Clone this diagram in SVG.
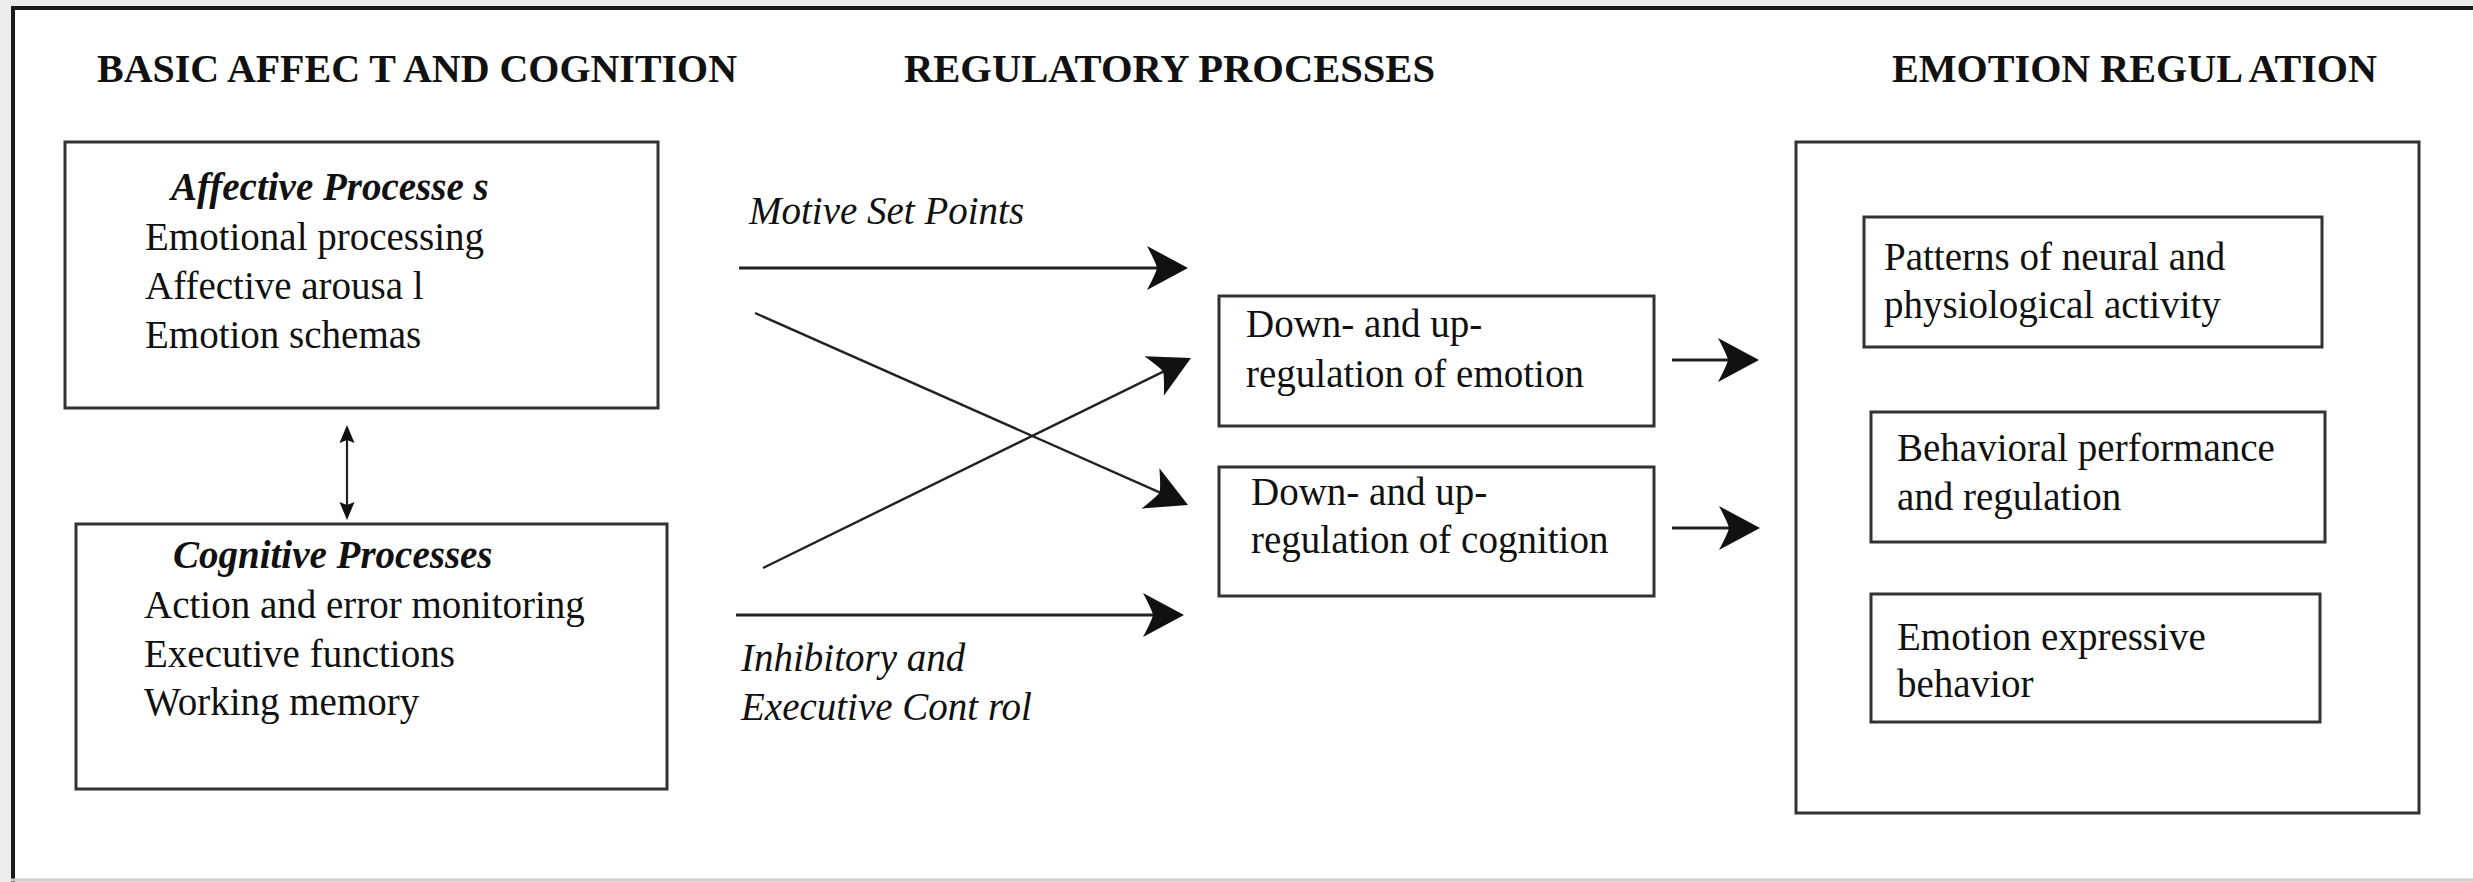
<svg xmlns="http://www.w3.org/2000/svg" width="2473" height="882" viewBox="0 0 2473 882">
<style>
.box{fill:#fff;stroke:#333;stroke-width:3}
.t{font-family:"Liberation Serif","Times New Roman",serif;font-size:39px;fill:#111}
.h{font-family:"Liberation Serif","Times New Roman",serif;font-size:40px;font-weight:bold;fill:#111}
.bi{font-weight:bold;font-style:italic}
.i{font-style:italic}
.ln{stroke:#222;stroke-width:3;fill:none}
.dg{stroke:#222;stroke-width:2.4;fill:none}
.thin{stroke:#222;stroke-width:2.2;fill:none}
</style>
<defs>
<marker id="ah" markerUnits="userSpaceOnUse" markerWidth="50" markerHeight="50" viewBox="-25 -25 50 50" refX="0" refY="0" orient="auto">
<path d="M20,0 L-21,-22 Q-12,-5 -11,0 Q-12,5 -21,22 Z" fill="#111"/>
</marker>
<marker id="sm" markerUnits="userSpaceOnUse" markerWidth="24" markerHeight="24" viewBox="-12 -12 24 24" refX="0" refY="0" orient="auto-start-reverse">
<path d="M9,0 L-9,-7.5 L-6,0 L-9,7.5 Z" fill="#111"/>
</marker>
</defs>
<rect x="0" y="0" width="2473" height="882" fill="#ececec"/>
<rect x="11" y="6" width="2462" height="872" fill="#fff"/>
<line x1="13" y1="8" x2="13" y2="882" stroke="#1a1a1a" stroke-width="4"/>
<line x1="11" y1="8" x2="2473" y2="8" stroke="#1a1a1a" stroke-width="4"/>
<line x1="11" y1="880" x2="2473" y2="880" stroke="#cfcfcf" stroke-width="3"/>

<g id="headings">
<text class="h" x="97" y="82" textLength="640" lengthAdjust="spacingAndGlyphs">BASIC AFFEC T AND COGNITION</text>
<text class="h" x="904" y="82" textLength="531" lengthAdjust="spacingAndGlyphs">REGULATORY PROCESSES</text>
<text class="h" x="1892" y="82" textLength="485" lengthAdjust="spacingAndGlyphs">EMOTION REGUL ATION</text>
</g>

<g id="affective">
<rect class="box" x="65" y="142" width="593" height="266"/>
<text class="t bi" x="171" y="200">Affective Processe s</text>
<text class="t" x="145" y="250">Emotional processing</text>
<text class="t" x="145" y="299">Affective arousa l</text>
<text class="t" x="145" y="348">Emotion schemas</text>
</g>

<g id="cognitive">
<rect class="box" x="76" y="524" width="591" height="265"/>
<text class="t bi" x="173" y="568">Cognitive Processes</text>
<text class="t" x="144" y="618">Action and error monitoring</text>
<text class="t" x="144" y="667">Executive functions</text>
<text class="t" x="144" y="715">Working memory</text>
</g>

<g id="emotion-reg-box">
<rect class="box" x="1219" y="296" width="435" height="130"/>
<text class="t" x="1246" y="337">Down- and up-</text>
<text class="t" x="1246" y="387">regulation of emotion</text>
</g>

<g id="cognition-reg-box">
<rect class="box" x="1219" y="467" width="435" height="129"/>
<text class="t" x="1251" y="505">Down- and up-</text>
<text class="t" x="1251" y="553">regulation of cognition</text>
</g>

<g id="emotion-regulation">
<rect class="box" x="1796" y="142" width="623" height="671"/>
</g>
<g id="patterns">
<rect class="box" x="1864" y="217" width="458" height="130"/>
<text class="t" x="1884" y="270">Patterns of neural and</text>
<text class="t" x="1884" y="318">physiological activity</text>
</g>
<g id="behavioral">
<rect class="box" x="1871" y="412" width="454" height="130"/>
<text class="t" x="1897" y="461">Behavioral performance</text>
<text class="t" x="1897" y="510">and regulation</text>
</g>
<g id="expressive">
<rect class="box" x="1871" y="594" width="449" height="128"/>
<text class="t" x="1897" y="650">Emotion expressive</text>
<text class="t" x="1897" y="697">behavior</text>
</g>

<g id="labels">
<text class="t i" x="749" y="224">Motive Set Points</text>
<text class="t i" x="741" y="671">Inhibitory and</text>
<text class="t i" x="741" y="720">Executive Cont rol</text>
</g>

<g id="connectors">
<line class="thin" x1="347" y1="434" x2="347" y2="511" marker-start="url(#sm)" marker-end="url(#sm)"/>
<line class="ln" x1="739" y1="268" x2="1168" y2="268" marker-end="url(#ah)"/>
<line class="dg" x1="755" y1="313" x2="1169.7" y2="496.9" marker-end="url(#ah)"/>
<line class="dg" x1="763" y1="568" x2="1173" y2="366.8" marker-end="url(#ah)"/>
<line class="ln" x1="736" y1="615" x2="1164" y2="615" marker-end="url(#ah)"/>
<line class="ln" x1="1672" y1="360" x2="1739" y2="360" marker-end="url(#ah)"/>
<line class="ln" x1="1672" y1="528" x2="1740" y2="528" marker-end="url(#ah)"/>
</g>
</svg>
